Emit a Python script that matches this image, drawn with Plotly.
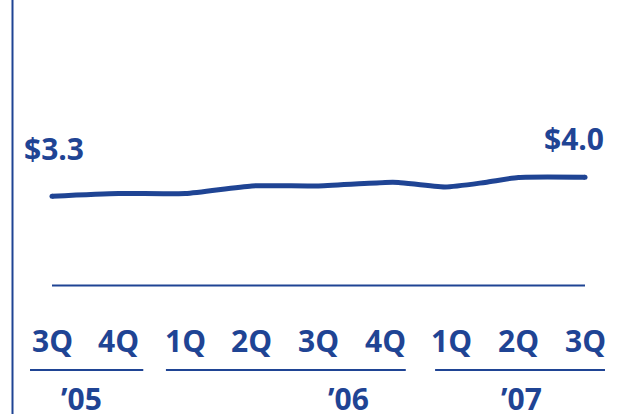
import plotly.graph_objects as go

# ---- data ----
quarter_labels = ["3Q", "4Q", "1Q", "2Q", "3Q", "4Q", "1Q", "2Q", "3Q"]
year_labels = ["\u201905", "\u201906", "\u201907"]
year_first_q = [0, 2, 6]
year_last_q = [1, 5, 8]
series_x = [0, 1, 2, 3, 4, 5, 5.2, 5.9, 6.5, 7, 8]
series_y = [3.3, 3.4, 3.4, 3.68, 3.68, 3.81, 3.81, 3.64, 3.81, 3.99, 4.0]
start_label = "$3.3"
end_label = "$4.0"

BLUE = "#1f4494"
FONT = "Open Sans"
FS = 30
W, H = 625, 414

def py(px):
    return 1 - px / H

fig = go.Figure()
fig.add_trace(go.Scatter(
    x=series_x, y=series_y, mode="lines",
    line=dict(color=BLUE, width=5, shape="spline", smoothing=0.6),
    hoverinfo="skip", showlegend=False))
# round caps at ends
fig.add_trace(go.Scatter(
    x=[series_x[0], series_x[-1]], y=[series_y[0], series_y[-1]], mode="markers",
    marker=dict(color=BLUE, size=5, line=dict(width=0)),
    hoverinfo="skip", showlegend=False))

shapes = []
# left vertical rule
shapes.append(dict(type="line", xref="paper", yref="paper", x0=12.5 / W, x1=12.5 / W,
                   y0=0, y1=1, line=dict(color=BLUE, width=2)))
# baseline at zero
shapes.append(dict(type="line", xref="x", yref="y", x0=0, x1=len(quarter_labels) - 1,
                   y0=0, y1=0, line=dict(color=BLUE, width=2)))
# year underlines
pads = [(0.33, 0.37), (0.29, 0.31), (0.25, 0.30)]
for f, l, (pl, pr) in zip(year_first_q, year_last_q, pads):
    shapes.append(dict(type="line", xref="x", yref="paper", x0=f - pl, x1=l + pr,
                       y0=py(370), y1=py(370), line=dict(color=BLUE, width=2)))

font = dict(family=FONT, size=FS, color=BLUE, weight="bold")
annotations = []
for i, t in enumerate(quarter_labels):
    annotations.append(dict(x=i, y=py(340), xref="x", yref="paper", text=t,
                            showarrow=False, xanchor="center", yanchor="middle", font=font))
year_x = [0.44, 4.45, 7.05]
for xx, t in zip(year_x, year_labels):
    annotations.append(dict(x=xx, y=py(398), xref="x", yref="paper", text=t,
                            showarrow=False, xanchor="center", yanchor="middle", font=font))
annotations.append(dict(x=series_x[0], y=py(148), xref="x", yref="paper", text=start_label,
                        showarrow=False, xanchor="center", yanchor="middle", xshift=2, font=font))
annotations.append(dict(x=series_x[-1], y=py(139), xref="x", yref="paper", text=end_label,
                        showarrow=False, xanchor="center", yanchor="middle", xshift=-11, font=font))

x0px, step = 52, 66.625
zero_px, unit = 285.5, 27.06
fig.update_layout(
    width=W, height=H, margin=dict(l=0, r=0, t=0, b=0),
    paper_bgcolor="white", plot_bgcolor="white",
    xaxis=dict(range=[-x0px / step, (W - x0px) / step], visible=False, fixedrange=True),
    yaxis=dict(range=[-(H - zero_px) / unit, zero_px / unit], visible=False, fixedrange=True),
    shapes=shapes, annotations=annotations, showlegend=False)

fig.write_html("out.html")
